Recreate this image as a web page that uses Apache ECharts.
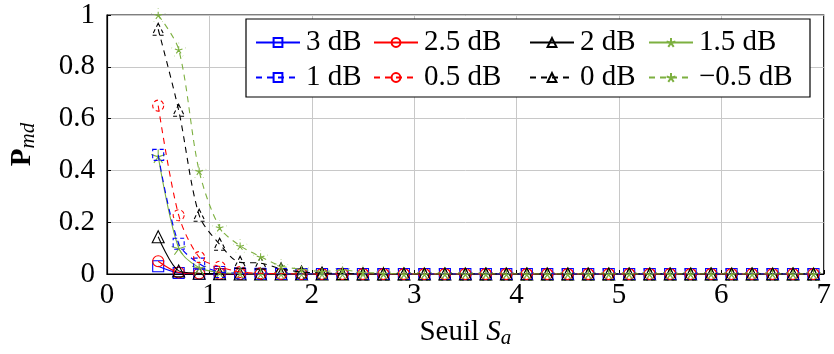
<!DOCTYPE html>
<html>
<head>
<meta charset="utf-8">
<script src="https://cdn.jsdelivr.net/npm/echarts@6/dist/echarts.min.js"></script>
<style>
  html, body { margin: 0; padding: 0; background: #fff; }
  #chart { width: 834px; height: 354px; }
</style>
</head>
<body>
<div id="chart"></div>
<script>
// Threshold values S_a
const seuil = [0.5, 0.7, 0.9, 1.1, 1.3, 1.5, 1.7, 1.9, 2.1, 2.3, 2.5, 2.7, 2.9, 3.1, 3.3, 3.5, 3.7,
               3.9, 4.1, 4.3, 4.5, 4.7, 4.9, 5.1, 5.3, 5.5, 5.7, 5.9, 6.1, 6.3, 6.5, 6.7, 6.9];

// Missed-detection probability P_md for each SNR
const pmd3 = [0.030, 0.004, 0.001, 0, 0, 0, 0, 0, 0, 0, 0, 0, 0, 0, 0, 0, 0,
              0, 0, 0, 0, 0, 0, 0, 0, 0, 0, 0, 0, 0, 0, 0, 0];
const pmd25 = [0.049, 0.006, 0.002, 0.001, 0, 0, 0, 0, 0, 0, 0, 0, 0, 0, 0, 0, 0,
               0, 0, 0, 0, 0, 0, 0, 0, 0, 0, 0, 0, 0, 0, 0, 0];
const pmd2 = [0.144, 0.012, 0.003, 0.001, 0, 0, 0, 0, 0, 0, 0, 0, 0, 0, 0, 0, 0,
              0, 0, 0, 0, 0, 0, 0, 0, 0, 0, 0, 0, 0, 0, 0, 0];
const pmd15 = [0.455, 0.100, 0.024, 0.006, 0.002, 0, 0, 0, 0, 0, 0, 0, 0, 0, 0, 0, 0,
               0, 0, 0, 0, 0, 0, 0, 0, 0, 0, 0, 0, 0, 0, 0, 0];
const pmd1 = [0.460, 0.117, 0.040, 0.008, 0.003, 0.001, 0, 0, 0, 0, 0, 0, 0, 0, 0, 0, 0,
              0, 0, 0, 0, 0, 0, 0, 0, 0, 0, 0, 0, 0, 0, 0, 0];
const pmd05 = [0.650, 0.227, 0.065, 0.028, 0.008, 0.003, 0.001, 0, 0, 0, 0, 0, 0, 0, 0, 0, 0,
               0, 0, 0, 0, 0, 0, 0, 0, 0, 0, 0, 0, 0, 0, 0, 0];
const pmd0 = [0.945, 0.632, 0.227, 0.115, 0.045, 0.042, 0.020, 0.008, 0.004, 0.002, 0, 0, 0, 0, 0, 0, 0,
              0, 0, 0, 0, 0, 0, 0, 0, 0, 0, 0, 0, 0, 0, 0, 0];
const pmdm05 = [1.000, 0.867, 0.398, 0.180, 0.109, 0.067, 0.031, 0.018, 0.010, 0.015, 0.006, 0.003, 0, 0, 0, 0, 0,
                0, 0, 0, 0, 0, 0, 0, 0, 0, 0, 0, 0, 0, 0, 0, 0];

const seriesNames = ['3 dB', '2.5 dB', '2 dB', '1.5 dB', '1 dB', '0.5 dB', '0 dB', '\u22120.5 dB'];
const seriesValues = [pmd3, pmd25, pmd2, pmd15, pmd1, pmd05, pmd0, pmdm05];

const xTicks = [0, 1, 2, 3, 4, 5, 6, 7];
const yTicks = [0, 0.2, 0.4, 0.6, 0.8, 1];

const BLUE = '#0000ff', RED = '#ff0000', BLACK = '#000000', GREEN = '#7db040';
const STAR = 'path://M0 0L0 -1M0 0L0.951 -0.309M0 0L0.588 0.809M0 0L-0.588 0.809M0 0L-0.951 -0.309';
const styles = [
  { color: BLUE,  symbol: 'rect',     size: 11, dashed: false },
  { color: RED,   symbol: 'circle',   size: 11, dashed: false },
  { color: BLACK, symbol: 'triangle', size: 12, dashed: false },
  { color: GREEN, symbol: STAR,       size: 14, dashed: false },
  { color: BLUE,  symbol: 'rect',     size: 11, dashed: true },
  { color: RED,   symbol: 'circle',   size: 11, dashed: true },
  { color: BLACK, symbol: 'triangle', size: 12, dashed: true },
  { color: GREEN, symbol: STAR,       size: 14, dashed: true }
];

const FONT = '"Liberation Serif", "DejaVu Serif", serif';
const DASH = [6, 5];

const series = seriesNames.map(function (name, i) {
  const s = styles[i];
  return {
    name: name,
    type: 'line',
    data: seuil.map(function (x, k) { return [x, seriesValues[i][k]]; }),
    smooth: 0.3,
    symbol: s.symbol,
    symbolSize: s.size,
    symbolKeepAspect: true,
    showAllSymbol: true,
    animation: false,
    lineStyle: { color: s.color, width: 1.1, type: s.dashed ? DASH : 'solid' },
    itemStyle: {
      color: 'rgba(0,0,0,0)',
      borderColor: s.color,
      borderWidth: 1.1,
      borderType: s.dashed ? [4, 3] : 'solid'
    },
    emphasis: { disabled: true },
    z: 2 + i
  };
});

// Legend: two rows, four columns, inside a framed white box
const legendCols = [255, 373, 529, 648];
const legendRows = [42, 77];
const legends = seriesNames.map(function (name, i) {
  return {
    data: [name],
    left: legendCols[i % 4],
    top: legendRows[Math.floor(i / 4)] - 14,
    padding: 0,
    itemWidth: 44,
    itemHeight: 11,
    itemGap: 0,
    selectedMode: false,
    z: 20,
    textStyle: { fontFamily: FONT, fontSize: 29, color: '#000', lineHeight: 28, padding: [0, 0, 0, 1] }
  };
});

const chart = echarts.init(document.getElementById('chart'), null, { renderer: 'canvas' });
chart.setOption({
  animation: false,
  backgroundColor: '#fff',
  grid: {
    left: 105, right: 3, top: 15, bottom: 76,
    show: true, borderColor: '#000', borderWidth: 1.2, backgroundColor: 'transparent'
  },
  graphic: [{
    type: 'rect',
    z: 15,
    shape: { x: 246, y: 19, width: 564, height: 78 },
    style: { fill: '#fff', stroke: '#000', lineWidth: 1.2 }
  }],
  legend: legends,
  xAxis: {
    type: 'value',
    min: xTicks[0], max: xTicks[xTicks.length - 1], interval: 1,
    axisLine: { show: true, lineStyle: { color: '#000', width: 1.2 } },
    axisTick: { show: true, inside: true, length: 4, lineStyle: { color: '#000' } },
    axisLabel: { fontFamily: FONT, fontSize: 29, color: '#000', margin: 7 },
    splitLine: { show: true, lineStyle: { color: '#c8c8c8', width: 1 } },
    name: '{n|Seuil }{i|S}{sub|a}',
    nameLocation: 'middle',
    nameGap: 42,
    nameTextStyle: {
      rich: {
        n: { fontFamily: FONT, fontSize: 29, color: '#000' },
        i: { fontFamily: FONT, fontSize: 29, fontStyle: 'italic', color: '#000' },
        sub: { fontFamily: FONT, fontSize: 21, fontStyle: 'italic', color: '#000', padding: [12, 0, 0, 0] }
      }
    }
  },
  yAxis: {
    type: 'value',
    min: yTicks[0], max: yTicks[yTicks.length - 1], interval: 0.2,
    axisLine: { show: true, lineStyle: { color: '#000', width: 1.2 } },
    axisTick: { show: true, inside: true, length: 4, lineStyle: { color: '#000' } },
    axisLabel: { fontFamily: FONT, fontSize: 29, color: '#000', margin: 12 },
    splitLine: { show: true, lineStyle: { color: '#c8c8c8', width: 1 } },
    name: '{b|P}{sub|md}',
    nameLocation: 'middle',
    nameGap: 68,
    nameRotate: 90,
    nameTextStyle: {
      rich: {
        b: { fontFamily: FONT, fontSize: 29, fontWeight: 'bold', color: '#000' },
        sub: { fontFamily: FONT, fontSize: 21, fontStyle: 'italic', color: '#000', padding: [12, 0, 0, 0] }
      }
    }
  },
  series: series
});
</script>
</body>
</html>
